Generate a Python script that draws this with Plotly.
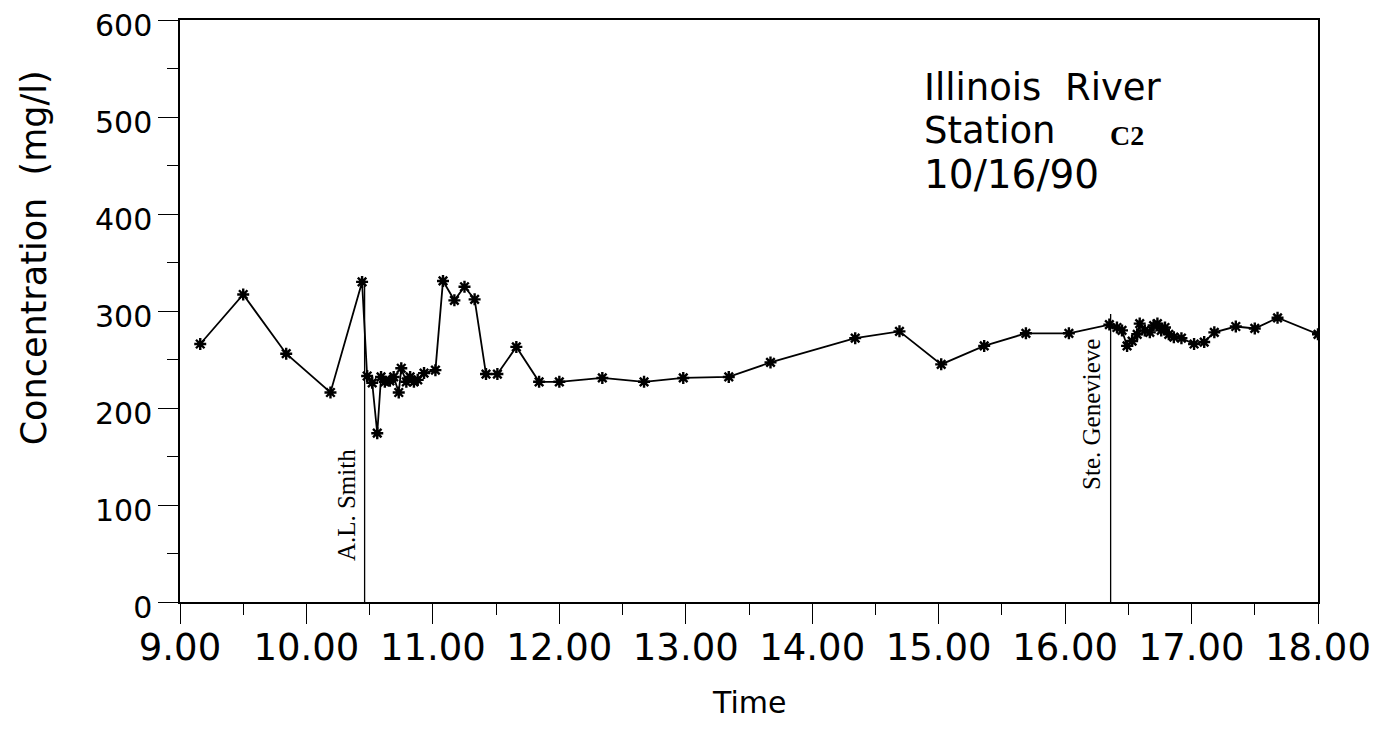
import plotly.graph_objects as go

# ---- data ----
time_hr = [9.16, 9.50, 9.84, 10.19, 10.44, 10.48, 10.52, 10.56, 10.59, 10.62,
           10.66, 10.69, 10.73, 10.75, 10.79, 10.82, 10.85, 10.88, 10.93, 11.02,
           11.08, 11.17, 11.25, 11.33, 11.42, 11.51, 11.66, 11.84, 12.00, 12.34,
           12.67, 12.98, 13.34, 13.67, 14.34, 14.69, 15.02, 15.36, 15.69, 16.03,
           16.35, 16.41, 16.45, 16.49, 16.53, 16.57, 16.59, 16.63, 16.67, 16.70,
           16.73, 16.76, 16.79, 16.82, 16.86, 16.92, 17.02, 17.10, 17.18, 17.35,
           17.50, 17.68, 18.00]
concentration = [266, 317, 256, 216, 330, 233, 226, 174, 232, 227,
                 228, 232, 216, 241, 227, 232, 227, 229, 236, 239,
                 331, 311, 325, 312, 235, 235, 263, 227, 227, 231,
                 227, 231, 232, 247, 272, 279, 245, 264, 277, 277,
                 286, 283, 280, 264, 269, 276, 287, 280, 278, 285,
                 287, 280, 283, 276, 273, 272, 266, 268, 278, 284,
                 282, 293, 276]

event_names = ["A.L. Smith", "Ste. Genevieve"]
event_times = [10.46, 16.36]
event_tops = [332, 297]
event_label_y = [100, 193]

x_tickvals = [9, 10, 11, 12, 13, 14, 15, 16, 17, 18]
y_tickvals = [0, 100, 200, 300, 400, 500, 600]

FONT = "DejaVu Sans"

fig = go.Figure()

for name, t, top in zip(event_names, event_times, event_tops):
    fig.add_trace(go.Scatter(x=[t, t], y=[0, top], mode="lines",
                             line=dict(color="black", width=1.3),
                             showlegend=False, hoverinfo="skip"))

fig.add_trace(go.Scatter(
    x=time_hr, y=concentration, mode="lines+markers",
    line=dict(color="black", width=1.8),
    marker=dict(symbol="asterisk-open", size=10, color="black",
                line=dict(color="black", width=2.4)),
    showlegend=False))

for name, t, ly in zip(event_names, event_times, event_label_y):
    fig.add_annotation(x=t, y=ly, xref="x", yref="y", text=name,
                       textangle=-90, showarrow=False, xanchor="right",
                       xshift=-3,
                       font=dict(family="Liberation Serif", size=25, color="black"))

# title block
fig.add_annotation(x=14.87, y=530, xref="x", yref="y", text="Illinois  River",
                   showarrow=False, xanchor="left", yanchor="middle",
                   font=dict(family=FONT, size=37, color="black"))
fig.add_annotation(x=14.87, y=486, xref="x", yref="y", text="Station",
                   showarrow=False, xanchor="left", yanchor="middle",
                   font=dict(family=FONT, size=37, color="black"))
fig.add_annotation(x=16.34, y=481, xref="x", yref="y", text="<b>C2</b>",
                   showarrow=False, xanchor="left", yanchor="middle",
                   font=dict(family="Liberation Serif", size=28, color="black"))
fig.add_annotation(x=14.87, y=441, xref="x", yref="y", text="10/16/90",
                   showarrow=False, xanchor="left", yanchor="middle",
                   font=dict(family=FONT, size=39, color="black"))

# axis titles
fig.add_annotation(x=-0.128, y=0.591, xref="paper", yref="paper",
                   text="Concentration  (mg/l)", textangle=-90, showarrow=False,
                   xanchor="center", yanchor="middle",
                   font=dict(family=FONT, size=35, color="black"))
fig.add_annotation(x=0.5, y=-0.172, xref="paper", yref="paper",
                   text="Time", showarrow=False, xanchor="center", yanchor="middle",
                   font=dict(family=FONT, size=30, color="black"))

fig.update_xaxes(range=[9, 18], tickvals=x_tickvals, tickformat=".2f",
                 ticks="outside", ticklen=20, tickwidth=1.3, tickcolor="black",
                 minor=dict(dtick=0.5, ticks="outside", ticklen=11, tickwidth=1.3,
                            tickcolor="black"),
                 showline=True, linecolor="black", linewidth=2, mirror=True,
                 showgrid=False, zeroline=False, automargin=False,
                 ticklabeloverflow="allow", ticklabelstandoff=-8,
                 tickfont=dict(family=FONT, size=37, color="black"))
fig.update_yaxes(range=[0, 600], tickvals=y_tickvals,
                 ticks="outside", ticklen=20, tickwidth=1.3, tickcolor="black",
                 minor=dict(dtick=50, ticks="outside", ticklen=11, tickwidth=1.3,
                            tickcolor="black"),
                 showline=True, linecolor="black", linewidth=1.5, mirror=True,
                 showgrid=False, zeroline=False, automargin=False,
                 ticklabeloverflow="allow", ticklabelshift=5,
                 tickfont=dict(family=FONT, size=30, color="black"))

fig.update_layout(width=1385, height=742, plot_bgcolor="white",
                  paper_bgcolor="white",
                  margin=dict(l=172, r=75, t=12, b=148))

fig.write_html("out.html")
